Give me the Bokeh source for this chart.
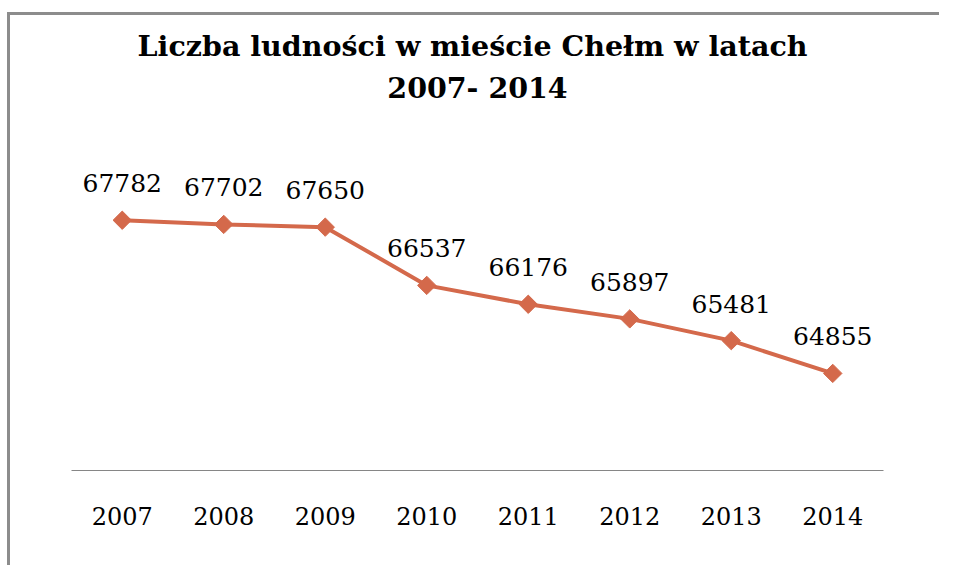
from bokeh.plotting import figure
from bokeh.models import FactorRange, Range1d, Title, LabelSet, ColumnDataSource
from bokeh.core.properties import value
from bokeh.embed import file_html
from bokeh.resources import INLINE

years = ["2007", "2008", "2009", "2010", "2011", "2012", "2013", "2014"]
population = [67782, 67702, 67650, 66537, 66176, 65897, 65481, 64855]
value_labels = [str(v) for v in population]
title_line1 = "Liczba ludności  w mieście Chełm w latach"
title_line2 = "2007- 2014"

LINE_COLOR = "#d4694b"
BORDER = "#8c8c8c"
W, H = 939, 565

src = ColumnDataSource(dict(year=years, pop=population, lab=value_labels))

p = figure(width=W, height=H, x_range=FactorRange(*years, range_padding=0),
           y_range=Range1d(63000, 69000), output_backend="svg", toolbar_location=None,
           min_border_left=71, min_border_right=56, min_border_top=156, min_border_bottom=95,
           title=None)
p.outline_line_color = None
p.background_fill_color = None
p.border_fill_color = None
p.xgrid.visible = False
p.ygrid.visible = False
p.yaxis.visible = False

# chart-area border (left and top edges), drawn as the host element background
p.styles = {
    "background": (
        f"linear-gradient({BORDER}, {BORDER}) 7px 12px / 3px 100% no-repeat, "
        f"linear-gradient({BORDER}, {BORDER}) 7px 12px / 100% 3px no-repeat, white"
    )
}

ax = p.xaxis[0]
ax.axis_line_color = "#868686"
ax.axis_line_width = 1
ax.major_tick_line_color = None
ax.minor_tick_line_color = None
ax.major_label_standoff = 30
ax.major_label_text_font = "DejaVu Serif"
ax.major_label_text_font_size = "24px"
ax.major_label_text_color = "black"

p.line("year", "pop", source=src, line_color=LINE_COLOR, line_width=4)
p.scatter("year", "pop", source=src, marker="square", angle=0.785398, size=13,
          fill_color=LINE_COLOR, line_color=LINE_COLOR)

labels = LabelSet(x="year", y="pop", text="lab", source=src, text_align="center",
                  text_baseline="middle", y_offset=37, text_font=value("DejaVu Serif"),
                  text_font_size=value("25px"), text_color="black")
p.add_layout(labels)

# spacer between the plot area and the two title lines
p.add_layout(Title(text=" ", text_font="DejaVu Serif", text_font_size="28.5px",
                   standoff=13), "above")
for t in [title_line2, title_line1]:
    p.add_layout(Title(text=t, align="center", text_font="DejaVu Serif",
                       text_font_size="28.5px", text_font_style="bold",
                       text_color="black", standoff=6, offset=5), "above")

open("out.html", "w").write(file_html(p, INLINE))
